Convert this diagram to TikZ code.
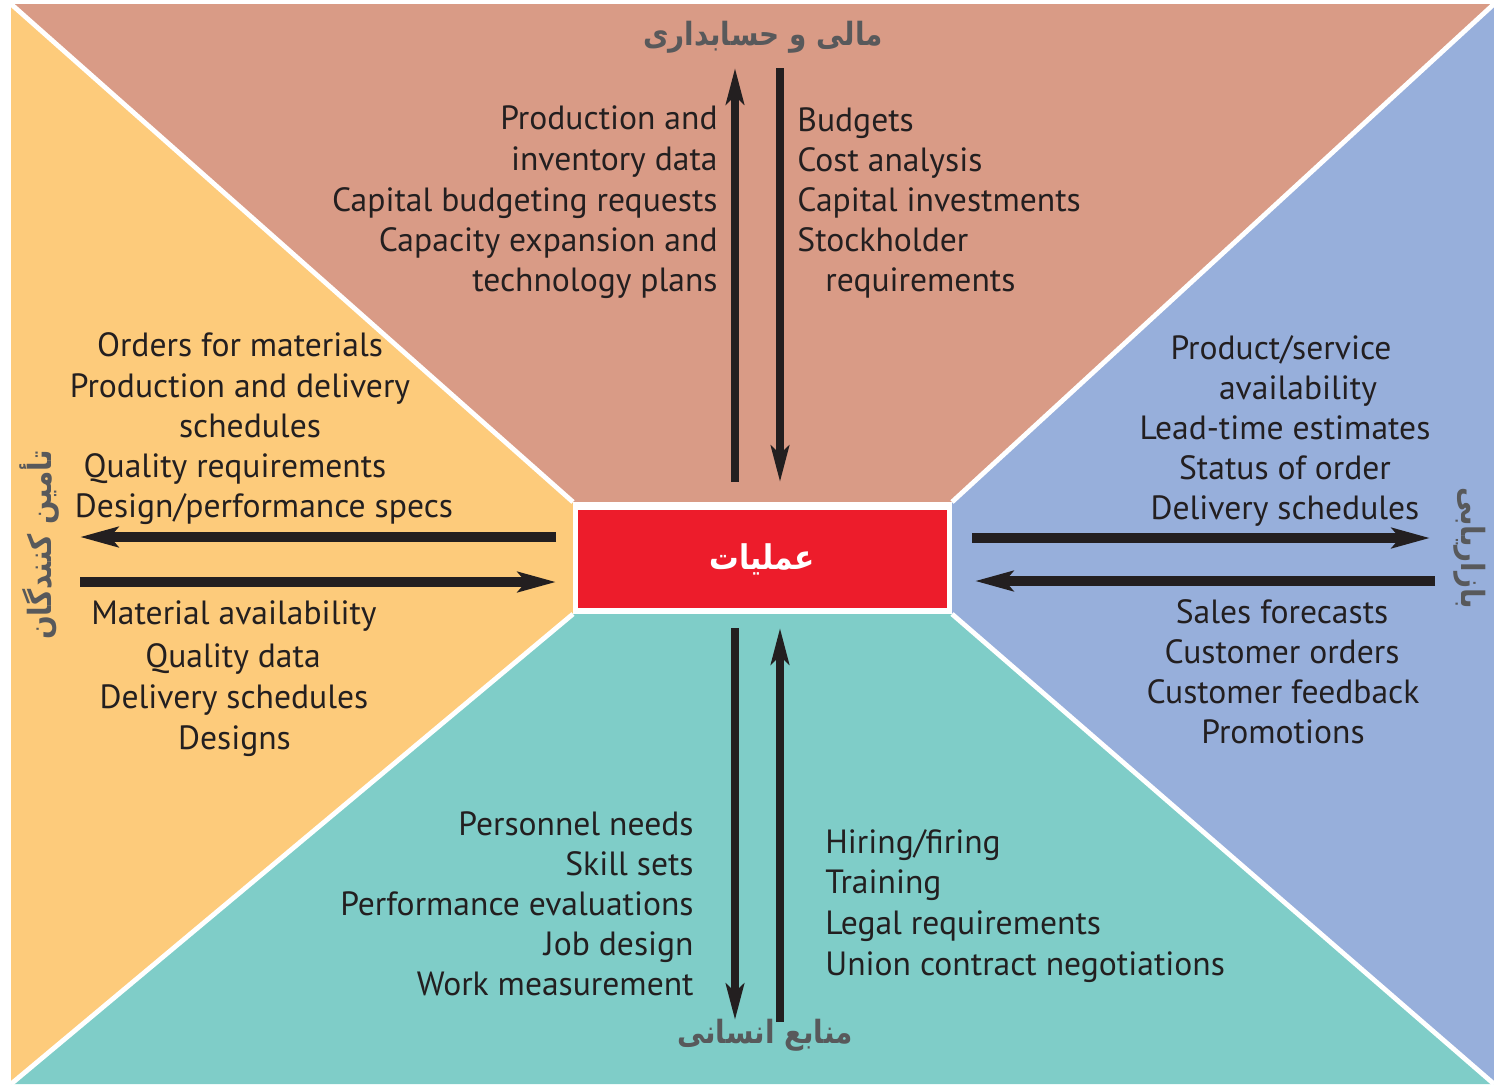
\documentclass[tikz,border=0pt]{standalone}
\usepackage{fontspec}
\usepackage{graphicx}
\setmainfont{PT Sans}
\newfontfamily\arabicfont[Script=Arabic]{DejaVu Sans}
\TeXXeTstate=1
\usetikzlibrary{arrows.meta}
\definecolor{topc}{HTML}{D99B86}
\definecolor{leftc}{HTML}{FDCB7B}
\definecolor{rightc}{HTML}{97AFDB}
\definecolor{botc}{HTML}{7FCDC8}
\definecolor{redc}{HTML}{ED1C2B}
\definecolor{labc}{HTML}{58595B}
\definecolor{txtc}{HTML}{231F20}
\newcommand{\fatext}[1]{\scalebox{0.87}[1]{\beginR #1\endR}}
\tikzset{
  lbl/.style={font=\fontsize{16.8pt}{20pt}\selectfont, text=txtc, inner sep=0pt},
  fa/.style={font=\arabicfont\bfseries\fontsize{16pt}{20pt}\selectfont, text=labc, inner sep=0pt},
  varr/.style={draw=txtc, line width=3.7pt, -{Stealth[length=18pt,width=9pt,inset=4pt]}},
  harr/.style={draw=txtc, line width=4.8pt, -{Stealth[length=19pt,width=10pt,inset=4pt]}},
  sep/.style={draw=white, line width=2.4pt}
}
\begin{document}
\begin{tikzpicture}[x=0.5pt,y=-0.5pt]
\useasboundingbox (0,0) rectangle (1494,1084);
\fill[white] (0,0) rectangle (1494,1084);
\coordinate (A) at (11,4);
\coordinate (B) at (1494,4);
\coordinate (C) at (1494,1084);
\coordinate (D) at (11,1084);
\coordinate (P) at (573,502);
\coordinate (Q) at (952,502);
\coordinate (R) at (952,614);
\coordinate (S) at (573,614);
\fill[topc] (A) -- (B) -- (Q) -- (P) -- cycle;
\fill[rightc] (B) -- (C) -- (R) -- (Q) -- cycle;
\fill[botc] (C) -- (D) -- (S) -- (R) -- cycle;
\fill[leftc] (D) -- (A) -- (P) -- (S) -- cycle;
\draw[sep] (A) -- (P) (B) -- (Q) (C) -- (R) (D) -- (S);
\fill[white] (P) rectangle (R);
\node[fill=redc, minimum width=184.5pt, minimum height=49pt, inner sep=0pt,
  font=\arabicfont\bfseries\fontsize{17pt}{20pt}\selectfont, text=white] (ops) at (762.5,559) {\fatext{عملیات}};

% Persian section labels
\node[fa] (fin) at (763,37) {\fatext{مالی و حسابداری}};
\node[fa] (hr) at (765,1035) {\fatext{منابع انسانی}};
\node[fa, rotate=90] (sup) at (40,545) {\fatext{تأمین کنندگان}};
\node[fa, rotate=-90] (mkt) at (1470,548) {\fatext{بازاریابی}};

% arrows
\coordinate (tu1) at (735,482); \coordinate (tu2) at (735,68);
\coordinate (td1) at (780,68);  \coordinate (td2) at (780,482);
\draw[varr] (tu1) -- (tu2);
\draw[varr] (td1) -- (td2);
\coordinate (bd1) at (735,628); \coordinate (bd2) at (735,1020);
\coordinate (bu1) at (780,1022); \coordinate (bu2) at (780,628);
\draw[varr] (bd1) -- (bd2);
\draw[varr] (bu1) -- (bu2);
\coordinate (ll1) at (556,537); \coordinate (ll2) at (80,537);
\coordinate (lr1) at (80,582);  \coordinate (lr2) at (556,582);
\draw[harr] (ll1) -- (ll2);
\draw[harr] (lr1) -- (lr2);
\coordinate (rr1) at (972,538); \coordinate (rr2) at (1430,538);
\coordinate (rl1) at (1435,581); \coordinate (rl2) at (975,581);
\draw[harr] (rr1) -- (rr2);
\draw[harr] (rl1) -- (rl2);

% top left
\node[lbl, anchor=mid east] (a1) at (718,124) {Production and};
\node[lbl, anchor=mid east] (a2) at (718,165) {inventory data};
\node[lbl, anchor=mid east] (a3) at (718,206) {Capital budgeting requests};
\node[lbl, anchor=mid east] (a4) at (718,246) {Capacity expansion and};
\node[lbl, anchor=mid east] (a5) at (718,286) {technology plans};
% top right
\node[lbl, anchor=mid west] (b1) at (797,126) {Budgets};
\node[lbl, anchor=mid west] (b2) at (797,166) {Cost analysis};
\node[lbl, anchor=mid west] (b3) at (797,206) {Capital investments};
\node[lbl, anchor=mid west] (b4) at (797,246) {Stockholder};
\node[lbl, anchor=mid west] (b5) at (825,286) {requirements};
% left upper
\node[lbl, anchor=mid] (c1) at (240,351) {Orders for materials};
\node[lbl, anchor=mid] (c2) at (240,392) {Production and delivery};
\node[lbl, anchor=mid] (c3) at (250,432) {schedules};
\node[lbl, anchor=mid] (c4) at (235,472) {Quality requirements};
\node[lbl, anchor=mid] (c5) at (264,512) {Design/performance specs};
% left lower
\node[lbl, anchor=mid] (d1) at (234,619) {Material availability};
\node[lbl, anchor=mid] (d2) at (233,662) {Quality data};
\node[lbl, anchor=mid] (d3) at (234,703) {Delivery schedules};
\node[lbl, anchor=mid] (d4) at (234.5,744) {Designs};
% right upper
\node[lbl, anchor=mid] (e1) at (1281,354) {Product/service};
\node[lbl, anchor=mid] (e2) at (1298,394) {availability};
\node[lbl, anchor=mid] (e3) at (1285,434) {Lead-time estimates};
\node[lbl, anchor=mid] (e4) at (1285,474) {Status of order};
\node[lbl, anchor=mid] (e5) at (1285,514) {Delivery schedules};
% right lower
\node[lbl, anchor=mid] (f1) at (1282,618) {Sales forecasts};
\node[lbl, anchor=mid] (f2) at (1282,658) {Customer orders};
\node[lbl, anchor=mid] (f3) at (1283,698) {Customer feedback};
\node[lbl, anchor=mid] (f4) at (1283,738) {Promotions};
% bottom left
\node[lbl, anchor=mid east] (g1) at (694,830) {Personnel needs};
\node[lbl, anchor=mid east] (g2) at (694,870) {Skill sets};
\node[lbl, anchor=mid east] (g3) at (694,910) {Performance evaluations};
\node[lbl, anchor=mid east] (g4) at (694,950) {Job design};
\node[lbl, anchor=mid east] (g5) at (694,990) {Work measurement};
% bottom right
\node[lbl, anchor=mid west] (h1) at (825,848) {Hiring/firing};
\node[lbl, anchor=mid west] (h2) at (825,888) {Training};
\node[lbl, anchor=mid west] (h3) at (825,929) {Legal requirements};
\node[lbl, anchor=mid west] (h4) at (825,970) {Union contract negotiations};
\end{tikzpicture}
\end{document}
